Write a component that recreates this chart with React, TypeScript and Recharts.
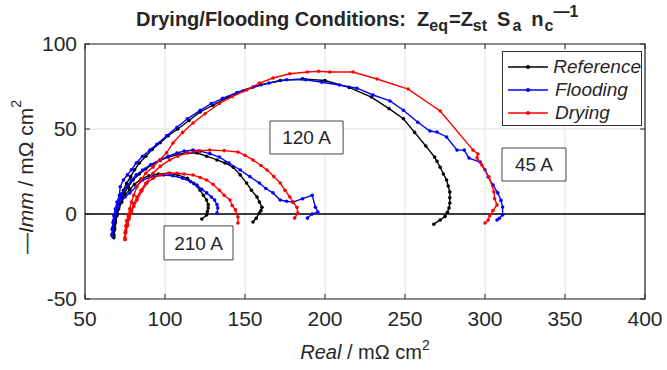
import React from 'react';
import { ScatterChart, Scatter, XAxis, YAxis, CartesianGrid, ReferenceLine, ReferenceArea, Label } from 'recharts';

type Pt = [number, number];

// 45 A
const reference45: Pt[] = [
  [68, -14], [68, -10], [68.5, -6], [69, -2], [70, 2], [71, 6], [72.5, 10], [74, 14], [76, 18], [78.5, 22],
  [81, 26], [84, 30], [88, 34], [92, 38], [97, 42], [102, 46], [108, 50], [115, 55], [122, 60], [130, 64],
  [139, 68.5], [149, 72.5], [160, 76], [172, 78.5], [186, 79.5], [200, 78.5], [215, 74.5], [229, 68.8],
  [240, 62], [249, 56], [256, 48], [263, 40], [268.5, 33.5], [270, 31], [272, 27.5], [274, 23.5], [276, 20],
  [277, 16.5], [278, 13], [278, 9.5], [278, 6.5], [277.5, 3.5], [276.5, 1], [275, -1.5], [272, -3.5], [268, -6],
];
const flooding45: Pt[] = [
  [67, -13], [67, -9], [67.5, -5], [68, -1], [69, 3], [70, 7], [71.5, 11], [72, 16], [74, 20], [76.5, 23],
  [79, 26], [82, 30], [86, 34], [90.6, 37.6], [95, 41], [101, 46], [107.5, 51], [114, 56], [122, 61], [129, 65],
  [136, 68], [145, 71.5], [155, 74.7], [165, 77], [176, 79], [188, 79], [198, 77.5], [209, 75.9], [220, 74],
  [230, 70], [240.6, 66.5], [249, 61], [258, 54], [265.6, 48.8], [270, 48.2], [276, 45.3], [282.5, 37.6],
  [287, 37.6], [290, 32.9], [297, 30.6], [300, 26], [302, 21.8], [305, 17], [308, 12.4], [310, 8], [311, 4.1],
  [311, -0.6], [309, -2.5], [307.5, -3.5],
];
const drying45: Pt[] = [
  [75, -15], [75, -11], [75.5, -7], [76, -4], [77, -1], [78, 3], [79, 7], [80.5, 11], [82.5, 16], [85, 20],
  [88, 24], [92.5, 27.6], [97, 32], [101, 36], [105, 41.8], [111, 48], [117.5, 53.5], [125, 59], [134, 65],
  [142, 69], [151, 73], [159, 77], [167.5, 80], [178, 82.5], [189, 83.5], [196, 84], [203, 83.5], [217.5, 83.5],
  [232.5, 79.4], [252, 73.5], [272, 60.6], [292.5, 37.6], [295.6, 35.3], [295, 33], [298, 28.8], [302.5, 21.8],
  [305.6, 13], [306, 9], [307.5, 5.3], [305, 2], [303, -1], [302, -3.5], [300, -5.3],
];

// 120 A
const reference120: Pt[] = [
  [68, -12], [68.5, -8], [69, -4], [70, 0], [71, 4], [72.5, 8], [74.5, 12], [77, 16], [80, 20], [84, 23.5],
  [88, 26.5], [92, 29], [97, 31.5], [102, 33.5], [108, 35], [114, 36], [120, 35.9], [126, 34], [132.5, 31.8],
  [137.5, 30], [142.5, 27.6], [147, 23], [151, 18.2], [154, 14], [157.5, 10], [159, 7], [160.6, 4], [160, 2],
  [159, 0.6], [157, -2.5], [155, -4.7],
];
const flooding120: Pt[] = [
  [67, -12], [67.5, -8], [68, -4], [69, 0], [70, 4], [71.5, 8], [73, 12], [76, 16], [79, 20], [82, 23],
  [86, 25.9], [91, 29], [97, 31.8], [102, 34], [107.5, 35.9], [112, 37], [117.5, 37.6], [122, 37], [128, 35.5],
  [134, 33.5], [140, 30], [147, 25.9], [153, 22], [159, 18.2], [163, 15], [167.5, 12.4], [172, 8.2], [176, 7.5],
  [180, 7], [186, 9], [192, 11], [194, 4], [195.6, 1.2], [192, 0], [189, -2.4],
];
const drying120: Pt[] = [
  [75, -14], [75.5, -10], [76.5, -6], [77.5, -2], [79, 2], [80.5, 6], [82.5, 10], [85, 14], [88, 18], [92.5, 24],
  [97, 28], [103, 31.8], [108, 34], [114, 35.9], [121, 37.2], [128, 37.6], [137, 37.3], [145.6, 36.5], [150, 34.5],
  [155, 31.8], [160, 28.5], [163.75, 25.9], [168, 22], [172, 18.2], [175, 14], [178, 10], [180, 7], [182.5, 4],
  [183, 0.6], [181, -2.4],
];

// 210 A
const reference210: Pt[] = [
  [68, -13], [68.5, -9], [69, -5], [70, -1], [71, 3], [73, 7], [75, 11], [78, 14.5], [81, 17.5], [85, 20.5],
  [90, 22.5], [96, 23.5], [103, 24], [108, 23], [114, 21], [118, 18], [122, 14], [124, 11], [126, 8.2],
  [127, 5.5], [127, 3.5], [126.5, 1.5], [126, -0.6], [123, -2.9],
];
const flooding210: Pt[] = [
  [67, -12], [67.5, -8], [68, -4], [69, 0], [70.5, 4], [72, 8], [75, 10], [78, 12.4], [82, 16], [86, 20],
  [92, 22], [99, 22.9], [105, 22.5], [111, 21], [116, 19], [120, 17], [123, 14.5], [126, 12.4], [129, 10],
  [131, 8.2], [132.5, 5.5], [133, 3.5], [132.5, 0.6],
];
const drying210: Pt[] = [
  [75, -15], [75.5, -11], [76.5, -7], [77.5, -3], [79, 1], [80.5, 4.5], [82.5, 8.2], [85.5, 13.5], [88.75, 18.2],
  [92.5, 21], [97, 23], [102, 24], [107.5, 24], [112, 23.5], [117.5, 22.9], [122, 21.5], [126, 20], [130, 17.5],
  [134, 14], [137, 11], [140.6, 8.2], [142, 5], [144, 2.4], [145.6, -1.8], [145.6, -5.3],
];

const xTicks = [50, 100, 150, 200, 250, 300, 350, 400];
const yTicks = [-50, 0, 50, 100];

const legendItems = [
  { name: 'Reference', color: '#000000' },
  { name: 'Flooding', color: '#0000ff' },
  { name: 'Drying', color: '#ff0000' },
];

const curves = [
  { id: 'ref45', color: '#000000', points: reference45 },
  { id: 'ref120', color: '#000000', points: reference120 },
  { id: 'ref210', color: '#000000', points: reference210 },
  { id: 'fl45', color: '#0000ff', points: flooding45 },
  { id: 'fl120', color: '#0000ff', points: flooding120 },
  { id: 'fl210', color: '#0000ff', points: flooding210 },
  { id: 'dr45', color: '#ff0000', points: drying45 },
  { id: 'dr120', color: '#ff0000', points: drying120 },
  { id: 'dr210', color: '#ff0000', points: drying210 },
];

// annotation boxes, in data units
const currentBoxes = [
  { text: '120 A', x1: 165.6, x2: 211.3, y1: 35.3, y2: 54.7 },
  { text: '45 A', x1: 310.6, x2: 350.6, y1: 19.4, y2: 38.8 },
  { text: '210 A', x1: 99.4, x2: 142.5, y1: -27, y2: -7 },
];

const W = 667;
const H = 370;
const PLOT_LEFT = 85;
const PLOT_RIGHT = 645;
const PLOT_TOP = 44;
const PLOT_BOTTOM = 299;
const FONT = '"Liberation Sans", Arial, Helvetica, sans-serif';
const INK = '#262626';

const XTick = (props: any) => {
  const { x, y, payload } = props;
  return (
    <g>
      <line x1={x} x2={x} y1={PLOT_BOTTOM} y2={PLOT_BOTTOM - 5} stroke={INK} />
      <line x1={x} x2={x} y1={PLOT_TOP} y2={PLOT_TOP + 5} stroke={INK} />
      <text x={x} y={y + 15} textAnchor="middle" fill={INK} fontSize={21} fontFamily={FONT}>
        {payload.value}
      </text>
    </g>
  );
};

const YTick = (props: any) => {
  const { x, y, payload } = props;
  return (
    <g>
      <line x1={PLOT_LEFT} x2={PLOT_LEFT + 5} y1={y} y2={y} stroke={INK} />
      <line x1={PLOT_RIGHT} x2={PLOT_RIGHT - 5} y1={y} y2={y} stroke={INK} />
      <text x={x} y={y + 7} textAnchor="end" fill={INK} fontSize={21} fontFamily={FONT}>
        {payload.value}
      </text>
    </g>
  );
};

const dot = (color: string) => (p: any) => <circle cx={p.cx} cy={p.cy} r={1.8} fill={color} />;

const subStyle: React.CSSProperties = { fontSize: 16, position: 'relative', top: 5, verticalAlign: 'baseline' };

const App = () => {
  return (
    <div style={{ position: 'absolute', left: 0, top: 0, width: W, height: H, background: '#fff', fontFamily: FONT }}>
      <div
        style={{
          position: 'absolute', left: 136, top: 7, fontSize: 20, fontWeight: 'bold', color: INK,
          whiteSpace: 'pre', lineHeight: '24px',
        }}
      >
        {'Drying/Flooding Conditions:  Z'}
        <span style={subStyle}>eq</span>
        <span style={{ marginLeft: 1 }}>=Z</span>
        <span style={subStyle}>st</span>
        <span style={{ marginLeft: 10 }}>S</span>
        <span style={{ ...subStyle, marginLeft: 2 }}>a</span>
        <span style={{ marginLeft: 10 }}>n</span>
        <span style={{ ...subStyle, marginLeft: 1 }}>c</span>
        <span style={{ fontSize: 16, position: 'relative', top: -9 }}>{'\u20141'}</span>
      </div>
      <ScatterChart width={W} height={H} margin={{ top: PLOT_TOP, right: W - PLOT_RIGHT, bottom: 0, left: 0 }}>
        <CartesianGrid stroke="#e1e1e1" strokeWidth={1} />
        <XAxis
          type="number"
          dataKey="x"
          domain={[50, 400]}
          ticks={xTicks}
          height={H - PLOT_BOTTOM}
          tickSize={0}
          tickMargin={12}
          tick={<XTick />}
          axisLine={false}
          allowDataOverflow
        >
          <Label
            content={(p: any) => (
              <text x={p.viewBox.x + p.viewBox.width / 2} y={p.viewBox.y + 60} textAnchor="middle" fill={INK} fontSize={20} fontFamily={FONT}>
                <tspan fontStyle="italic">Real</tspan>
                <tspan>{' / m\u03A9 cm'}</tspan>
                <tspan dy={-9} fontSize={14}>2</tspan>
              </text>
            )}
          />
        </XAxis>
        <YAxis
          type="number"
          dataKey="y"
          domain={[-50, 100]}
          ticks={yTicks}
          width={PLOT_LEFT}
          tickSize={0}
          tickMargin={8}
          tick={<YTick />}
          axisLine={false}
          allowDataOverflow
        >
          <Label
            content={() => (
              <text
                x={25}
                y={177}
                transform="rotate(-90 25 177)"
                textAnchor="middle"
                dominantBaseline="central"
                fill={INK}
                fontSize={21}
                fontFamily={FONT}
              >
                <tspan fill={INK}>{'\u2014'}</tspan>
                <tspan fontStyle="italic">Imm</tspan>
                <tspan>{' / m\u03A9 cm'}</tspan>
                <tspan dy={-9} fontSize={14}>2</tspan>
              </text>
            )}
          />
        </YAxis>
        <ReferenceLine y={0} stroke="#000" strokeWidth={1.5} />
        <ReferenceArea x1={50} x2={400} y1={-50} y2={100} fill="none" stroke={INK} strokeWidth={1.2} />
        {curves.map((c) => (
          <Scatter
            key={c.id}
            data={c.points.map(([x, y]) => ({ x, y }))}
            line={{ stroke: c.color, strokeWidth: 1.4 }}
            shape={dot(c.color)}
            fill={c.color}
            isAnimationActive={false}
          />
        ))}
        {currentBoxes.map((b) => (
          <ReferenceArea
            key={b.text}
            x1={b.x1}
            x2={b.x2}
            y1={b.y1}
            y2={b.y2}
            fill="#fff"
            fillOpacity={1}
            stroke="#444"
            strokeWidth={1}
          >
            <Label value={b.text} position="center" fill={INK} fontSize={19} fontFamily={FONT} />
          </ReferenceArea>
        ))}
      </ScatterChart>
      <div
        style={{
          position: 'absolute', left: 502, top: 51, width: 140, height: 75, border: '1.5px solid #333',
          background: '#fff', boxSizing: 'border-box', paddingTop: 3,
        }}
      >
        {legendItems.map((it) => (
          <div key={it.name} style={{ display: 'flex', alignItems: 'center', height: 23 }}>
            <svg width={48} height={10} style={{ marginLeft: 4 }}>
              <line x1={1} x2={41} y1={5} y2={5} stroke={it.color} strokeWidth={1.5} />
              <circle cx={21} cy={5} r={2} fill={it.color} />
            </svg>
            <span style={{ fontSize: 19, fontStyle: 'italic', color: INK }}>{it.name}</span>
          </div>
        ))}
      </div>
    </div>
  );
};

export default App;
